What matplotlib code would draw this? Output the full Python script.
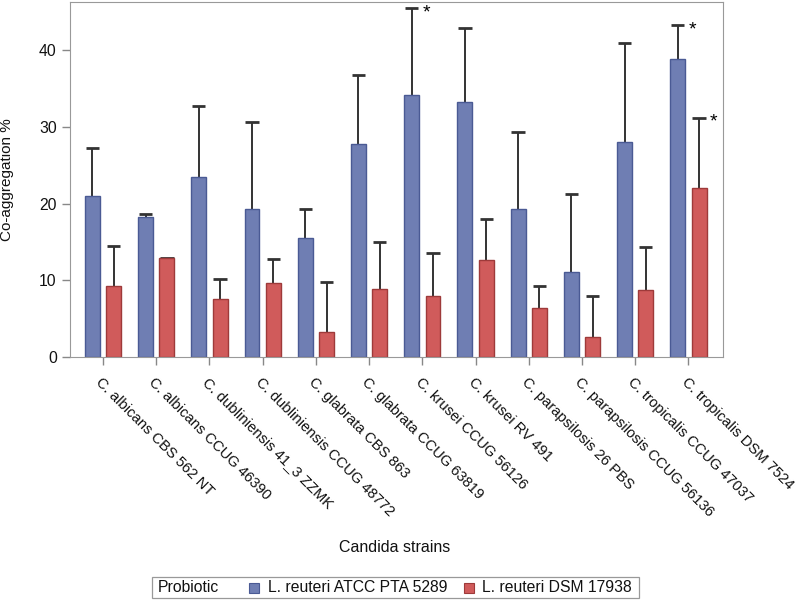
import matplotlib
matplotlib.use('Agg')
import matplotlib.pyplot as plt
import matplotlib.patches as mpatches
import numpy as np

plt.rcParams['font.family'] = ['Liberation Sans', 'DejaVu Sans']

# data
strains = ['C. albicans CBS 562 NT', 'C. albicans CCUG 46390', 'C. dubliniensis 41_3 ZZMK',
           'C. dubliniensis CCUG 48772', 'C. glabrata CBS 863', 'C. glabrata CCUG 63819',
           'C. krusei CCUG 56126', 'C. krusei RV 491', 'C. parapsilosis 26 PBS',
           'C. parapsilosis CCUG 56136', 'C. tropicalis CCUG 47037', 'C. tropicalis DSM 7524']
atcc_mean = [21.0, 18.2, 23.5, 19.3, 15.5, 27.8, 34.2, 33.3, 19.3, 11.1, 28.1, 38.9]
atcc_upper = [27.3, 18.7, 32.8, 30.7, 19.3, 36.8, 45.5, 42.9, 29.4, 21.3, 41.0, 43.3]
dsm_mean = [9.2, 12.9, 7.6, 9.6, 3.3, 8.9, 7.9, 12.6, 6.4, 2.6, 8.7, 22.0]
dsm_upper = [14.5, 12.95, 10.2, 12.8, 9.8, 15.0, 13.6, 18.0, 9.25, 7.9, 14.3, 31.2]
# (series, strain index) pairs marked with an asterisk
stars = [(0, 6), (0, 11), (1, 11)]

legend_title = 'Probiotic'
labels = ['L. reuteri ATCC PTA 5289', 'L. reuteri DSM 17938']
fills = ['#6F7EB3', '#D05B5B']
edges = ['#4A5A94', '#9E3A3A']

W, H = 800, 600
fig = plt.figure(figsize=(8, 6), dpi=100)
ax = fig.add_axes([70 / W, 1 - 357 / H, 653 / W, 355 / H])

x = np.arange(len(strains))
w = 0.28
offs = [-0.2, 0.2]
means = [atcc_mean, dsm_mean]
uppers = [atcc_upper, dsm_upper]

for k in range(2):
    m = np.array(means[k])
    u = np.array(uppers[k])
    ax.bar(x + offs[k], m, width=w, color=fills[k], edgecolor=edges[k], linewidth=1, zorder=2)
    # upper error bars only, drawn behind the bars
    ax.vlines(x + offs[k], m, u, color='#333333', linewidth=1.4, zorder=1)
    ax.hlines(u, x + offs[k] - 0.125, x + offs[k] + 0.125, color='#333333', linewidth=2, zorder=1)

for k, i in stars:
    ax.text(i + offs[k] + 0.27, uppers[k][i] - 0.6, '*', fontsize=14,
            ha='center', va='center', color='black')

ax.set_xlim(-0.62, 11.65)
ax.set_ylim(0, 46.3)
ax.set_yticks([0, 10, 20, 30, 40])
ax.set_xticks(x)
ax.set_xticklabels(strains, rotation=-45, ha='left', rotation_mode='anchor')
ax.tick_params(axis='both', colors='#888888', labelcolor='#111111', labelsize=11.3, length=6, width=1)
ax.tick_params(axis='x', pad=7, labelsize=10.6)
for s in ax.spines.values():
    s.set_color('#999999')

ax.set_ylabel('Co-aggregation %', fontsize=11, color='#111111')
ax.yaxis.set_label_coords(-0.085, 0.5)
fig.text(395 / W, 1 - 547 / H, 'Candida strains', ha='center', va='center',
         fontsize=11.5, color='#111111')

# legend with inline title, drawn in figure pixels
def fx(px):
    return px / W

def fy(py):
    return 1 - py / H

fig.patches.append(mpatches.Rectangle((fx(152), fy(598)), fx(639) - fx(152), fy(577) - fy(598),
                                      transform=fig.transFigure, facecolor='white',
                                      edgecolor='#999999', linewidth=0.9))
fig.text(fx(158), fy(587.5), legend_title, ha='left', va='center', fontsize=11.3, color='#111111')
sq_x = [249, 464]
txt_x = [268, 482]
for k in range(2):
    fig.patches.append(mpatches.Rectangle((fx(sq_x[k]), fy(592.5)), fx(10), 10 / H,
                                          transform=fig.transFigure, facecolor=fills[k],
                                          edgecolor=edges[k], linewidth=0.8))
    fig.text(fx(txt_x[k]), fy(587.5), labels[k], ha='left', va='center', fontsize=11.3,
             color='#111111')

fig.savefig('out.png', dpi=100)
